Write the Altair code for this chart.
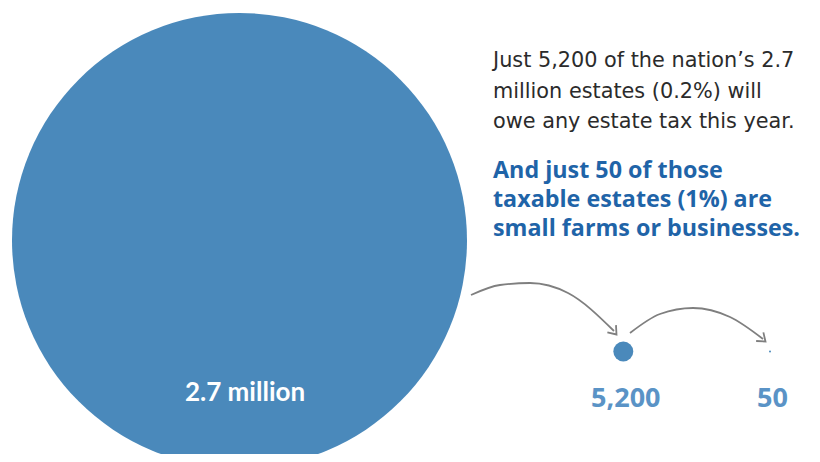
import altair as alt
import pandas as pd

# ---- data ----
labels = ["2.7 million", "5,200", "50"]
values = [2700000, 5200, 50]

para_black = ["Just 5,200 of the nation\u2019s 2.7",
              "million estates (0.2%) will",
              "owe any estate tax this year."]
para_blue = ["And just 50 of those",
             "taxable estates (1%) are",
             "small farms or businesses."]

# ---- layout (screen pixel space) ----
W, H = 804, 446
X0, X1, Y0, Y1 = 8, 8 + W, 8, 8 + H
cx = [239.5, 623.3, 770.0]
cy = [240.5, 351.5, 351.5]

R_BIG = 227.5
# Vega circle symbol: radius = sqrt(size) / 2
MAX_SIZE = (2 * R_BIG) ** 2

circ = pd.DataFrame({"label": labels, "value": values, "cx": cx, "cy": cy})

xs = alt.Scale(domain=[X0, X1], nice=False, zero=False)
ys = alt.Scale(domain=[Y0, Y1], reverse=True, nice=False, zero=False)

circles = alt.Chart(circ).transform_calculate(
    area=f"datum.value / 2700000 * {MAX_SIZE}"
).mark_circle(opacity=1, color="#4a89bb").encode(
    x=alt.X("cx:Q", scale=xs, axis=None),
    y=alt.Y("cy:Q", scale=ys, axis=None),
    size=alt.Size("area:Q", scale=None, legend=None),
)

big_label = alt.Chart(circ.iloc[[0]]).mark_text(
    font="Lato", fontWeight="bold", fontSize=26, baseline="alphabetic",
    align="center", color="#ffffff", dx=5.5, dy=160.5
).encode(x=alt.X("cx:Q", scale=xs), y=alt.Y("cy:Q", scale=ys), text="label:N")

small_labels = alt.Chart(circ.iloc[[1, 2]]).mark_text(
    font="Open Sans", fontWeight="bold", fontSize=27, baseline="alphabetic",
    align="center", color="#5a93c6", dx=2.5, dy=55
).encode(x=alt.X("cx:Q", scale=xs), y=alt.Y("cy:Q", scale=ys), text="label:N")

# arrows (annotation paths)
arrow_pts = pd.DataFrame({
    "arrow": ["a"] * 5 + ["b"] * 5,
    "x": [471, 500, 530, 568, 614, 630, 660, 693, 730, 763],
    "y": [295, 285, 283, 293, 331, 333, 314, 308, 317, 339],
})
arrows = alt.Chart(arrow_pts).mark_line(
    color="#7f7f7f", strokeWidth=1.8, interpolate="monotone"
).encode(
    x=alt.X("x:Q", scale=xs), y=alt.Y("y:Q", scale=ys), detail="arrow:N"
)

heads = pd.DataFrame({"x": [616.5, 765.5], "y": [334.5, 341.5], "ang": [50, 40]})
arrowheads = alt.Chart(heads).mark_point(
    shape="M -1 -0.75 L 0 0 L -1 0.75", filled=False, color="#7f7f7f",
    strokeWidth=1.8, size=225, opacity=1
).encode(
    x=alt.X("x:Q", scale=xs), y=alt.Y("y:Q", scale=ys),
    angle=alt.Angle("ang:Q", scale=None),
)

txt_black = alt.Chart(pd.DataFrame({"a": [0]})).mark_text(
    text=para_black, font="DejaVu Sans", fontWeight="normal", fontSize=20.8, lineHeight=30.7,
    align="left", baseline="alphabetic", color="#2b2b2b"
).encode(x=alt.value(493 - X0), y=alt.value(67 - Y0))

txt_blue = alt.Chart(pd.DataFrame({"a": [0]})).mark_text(
    text=para_blue, font="Open Sans", fontWeight="bold", fontSize=23.3, lineHeight=28.8,
    align="left", baseline="alphabetic", color="#1f64a8"
).encode(x=alt.value(493 - X0), y=alt.value(178 - Y0))

chart = alt.layer(circles, arrows, arrowheads, big_label, small_labels, txt_black, txt_blue).properties(
    width=W, height=H, autosize=alt.AutoSizeParams(type="none"), padding=0,
    background="#ffffff"
).configure_view(stroke=None)

chart.save("out.html", embed_options={"renderer": "svg", "actions": False})
